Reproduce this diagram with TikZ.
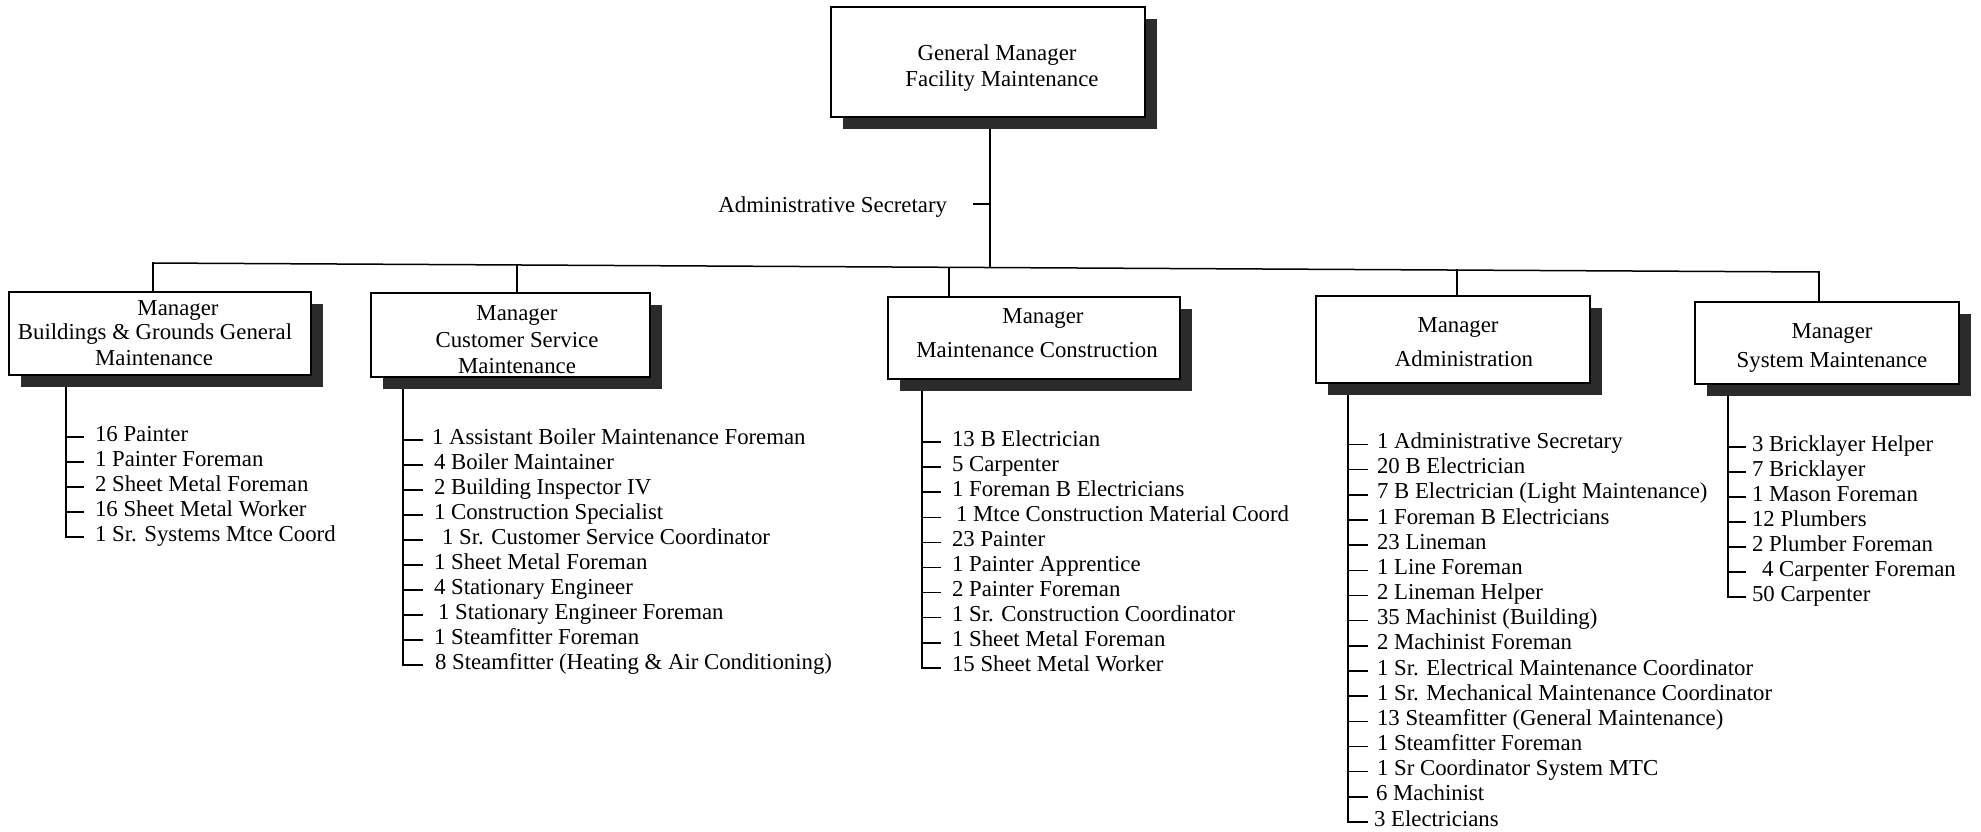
\documentclass[tikz,border=0pt]{standalone}
\usepackage{fontspec}
\setmainfont{Liberation Serif}
\usetikzlibrary{shadows}
\definecolor{shade}{HTML}{2B2B2B}
\pgfdeclarelayer{background}
\pgfsetlayers{background,main}
\newcommand\orglist[9]{%
  \coordinate (#1-x) at (#3,0);
  \foreach \t/\o [count=\i] in {#9} {
    \coordinate (#1-t\i) at ({#4},{#6+(\i-1)*#7});
    \node[item] (#1-\i) at ({#5+\o},{#6+(\i-1)*#7+4}) {\t};
    \begin{pgfonlayer}{background}
      \draw[conn] (#1-x |- #1-t\i) -- (#1-t\i);
    \end{pgfonlayer}
  }
  \begin{pgfonlayer}{background}
    \draw[conn] (#1-x |- #2.south) -- (#1-x |- #1-t#8);
  \end{pgfonlayer}
}
\begin{document}
\begin{tikzpicture}[x=1pt,y=-1pt,
  every node/.style={font=\fontsize{22.8}{26}\selectfont, inner sep=0pt, outer sep=0pt},
  mgr/.style={draw, fill=white, line width=1.6pt,
    general shadow={fill=shade, shadow xshift=12pt, shadow yshift=-12pt}},
  conn/.style={line width=1.5pt, line cap=rect},
  line/.style={anchor=base},
  item/.style={anchor=base west}]
\begin{pgfonlayer}{background}
\fill[white] (0,0) rectangle (1981,831);
\end{pgfonlayer}
\useasboundingbox (0,0) rectangle (1981,831);

% boxes
\node[mgr, minimum width=314pt, minimum height=110pt] (gm) at (988,62) {};
\node[mgr, minimum width=302pt, minimum height=83pt] (bg) at (160,333.5) {};
\node[mgr, minimum width=279pt, minimum height=84pt] (cs) at (510.5,335) {};
\node[mgr, minimum width=292pt, minimum height=82pt] (mc) at (1034,338) {};
\node[mgr, minimum width=274pt, minimum height=87pt] (ad) at (1453,339.5) {};
\node[mgr, minimum width=264pt, minimum height=82pt] (sm) at (1827,343) {};

% box texts
\node[line] (gm-l1) at (997,60) {General Manager};
\node[line] (gm-l2) at (1002,86) {Facility Maintenance};
\node[line] (bg-l1) at (178,315) {Manager};
\node[line] (bg-l2) at (155,339) {Buildings \& Grounds General};
\node[line] (bg-l3) at (154,365) {Maintenance};
\node[line] (cs-l1) at (517,320) {Manager};
\node[line] (cs-l2) at (517,347) {Customer Service};
\node[line] (cs-l3) at (517,373) {Maintenance};
\node[line] (mc-l1) at (1043,323) {Manager};
\node[line] (mc-l2) at (1037,357) {Maintenance Construction};
\node[line] (ad-l1) at (1458,332) {Manager};
\node[line] (ad-l2) at (1464,366) {Administration};
\node[line] (sm-l1) at (1832,338) {Manager};
\node[line] (sm-l2) at (1832,367) {System Maintenance};

% bus and connectors
\coordinate (b1) at (153,263);
\coordinate (b2) at (517,265);
\coordinate (b3) at (949,267.3);
\coordinate (bgm) at (990,267.5);
\coordinate (b4) at (1457,270);
\coordinate (b5) at (1819,272);
\begin{pgfonlayer}{background}
\draw[conn] (b1) -- (b5);
\draw[conn] (bgm |- gm.south) -- (bgm);
\draw[conn] (b1) -- (b1 |- bg.north);
\draw[conn] (b2) -- (b2 |- cs.north);
\draw[conn] (b3) -- (b3 |- mc.north);
\draw[conn] (b4) -- (b4 |- ad.north);
\draw[conn] (b5) -- (b5 |- sm.north);
\end{pgfonlayer}

% administrative secretary
\node[anchor=base east] (asec) at (947,212) {Administrative Secretary};
\coordinate (asec-t) at (974,204);
\draw[conn] (asec-t) -- (asec-t -| bgm);

% lists
\orglist{bgi}{bg}{66}{83}{95}{437}{25}{5}{16 Painter/0, 1 Painter Foreman/0, 2 Sheet Metal Foreman/0, 16 Sheet Metal Worker/0, 1 Sr. Systems Mtce Coord/0}

\orglist{csi}{cs}{403}{422}{434}{440}{25}{10}{1 Assistant Boiler Maintenance Foreman/-2, 4 Boiler Maintainer/0, 2 Building Inspector IV/0, 1 Construction Specialist/0, 1 Sr. Customer Service Coordinator/8, 1 Sheet Metal Foreman/0, 4 Stationary Engineer/0, 1 Stationary Engineer Foreman/4, 1 Steamfitter Foreman/0, 8 Steamfitter (Heating \& Air Conditioning)/1}

\orglist{mci}{mc}{922}{940}{952}{442}{25.1}{10}{13 B Electrician/0, 5 Carpenter/0, 1 Foreman B Electricians/0, 1 Mtce Construction Material Coord/4, 23 Painter/0, 1 Painter Apprentice/0, 2 Painter Foreman/0, 1 Sr. Construction Coordinator/0, 1 Sheet Metal Foreman/0, 15 Sheet Metal Worker/0}

\orglist{adi}{ad}{1348}{1367}{1377}{444.5}{25.17}{16}{1 Administrative Secretary/0, 20 B Electrician/0, 7 B Electrician (Light Maintenance)/0, 1 Foreman B Electricians/0, 23 Lineman/0, 1 Line Foreman/0, 2 Lineman Helper/0, 35 Machinist (Building)/0, 2 Machinist Foreman/0, 1 Sr. Electrical Maintenance Coordinator/0, 1 Sr. Mechanical Maintenance Coordinator/0, 13 Steamfitter (General Maintenance)/0, 1 Steamfitter Foreman/0, 1 Sr Coordinator System MTC/0, 6 Machinist/-1, 3 Electricians/-3}

\orglist{smi}{sm}{1728}{1745}{1752}{447}{25}{7}{3 Bricklayer Helper/0, 7 Bricklayer/0, 1 Mason Foreman/0, 12 Plumbers/0, 2 Plumber Foreman/0, 4 Carpenter Foreman/10, 50 Carpenter/0}
\end{tikzpicture}
\end{document}
